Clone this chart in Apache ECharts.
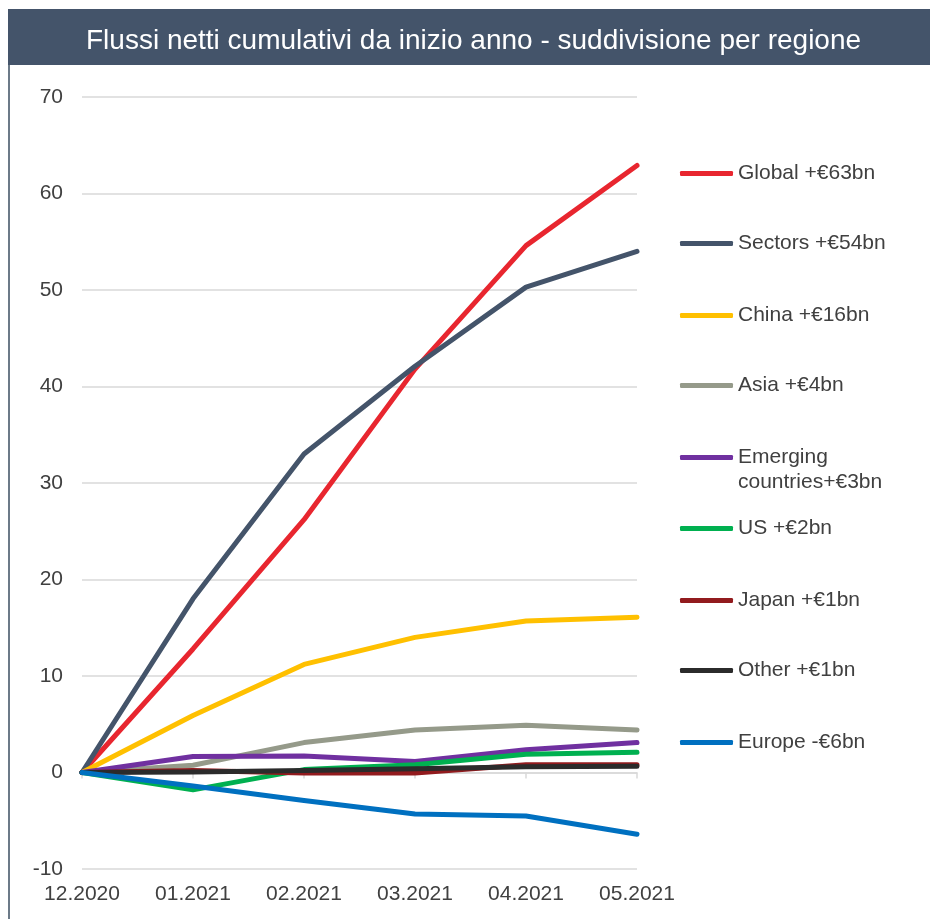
<!DOCTYPE html>
<html>
<head>
<meta charset="utf-8">
<script src="https://cdn.jsdelivr.net/npm/echarts@6/dist/echarts.min.js"></script>
<style>
html,body{margin:0;padding:0;background:#fff;}
#chart{width:930px;height:919px;}
</style>
</head>
<body>
<div id="chart"></div>
<script>
const titleText = 'Flussi netti cumulativi da inizio anno - suddivisione per regione';
const categories = ['12.2020', '01.2021', '02.2021', '03.2021', '04.2021', '05.2021'];
const seriesNames = ['Global +€63bn', 'Sectors +€54bn', 'China +€16bn', 'Asia +€4bn', 'Emerging\ncountries+€3bn', 'US +€2bn', 'Japan +€1bn', 'Other +€1bn', 'Europe -€6bn'];
const globalVals   = [0, 12.8, 26.2, 41.8, 54.6, 62.9];
const sectorsVals  = [0, 18.0, 33.0, 42.1, 50.3, 54.0];
const chinaVals    = [0, 5.9, 11.2, 14.0, 15.7, 16.1];
const asiaVals     = [0, 0.75, 3.1, 4.4, 4.9, 4.4];
const emergingVals = [0, 1.65, 1.7, 1.15, 2.35, 3.1];
const usVals       = [0, -1.8, 0.3, 0.8, 1.9, 2.1];
const japanVals    = [0, 0.2, -0.05, -0.05, 0.8, 0.8];
const otherVals    = [0, 0.05, 0.2, 0.4, 0.6, 0.65];
const europeVals   = [0, -1.4, -2.9, -4.3, -4.5, -6.4];
const yTicks = {min: -10, max: 70, interval: 10};

const allVals = [globalVals, sectorsVals, chinaVals, asiaVals, emergingVals, usVals, japanVals, otherVals, europeVals];
const colors = ['#E8262F', '#44546A', '#FFC000', '#959A8A', '#7030A0', '#00B050', '#921B1E', '#2B2B2B', '#0070C0'];

const FONT = '"Liberation Sans", Arial, sans-serif';
const chart = echarts.init(document.getElementById('chart'), null, {renderer: 'canvas'});

const legendCenters = [173, 243, 315, 385, 457, 528, 600, 670, 742];
const legends = seriesNames.map((n, i) => {
  const multi = n.indexOf('\n') >= 0;
  return {
    data: [n],
    left: 680,
    top: multi ? legendCenters[i] - 37 : legendCenters[i] - 12,
    padding: 0,
    orient: 'vertical',
    icon: 'roundRect',
    itemWidth: 53,
    itemHeight: 5,
    selectedMode: false,
    formatter: name => (name.indexOf('\n') >= 0 ? ' \n' + name : name),
    textStyle: {fontFamily: FONT, fontSize: 21, color: '#404040', lineHeight: 25}
  };
});

chart.setOption({
  animation: false,
  backgroundColor: '#fff',
  graphic: [
    {type: 'rect', shape: {x: 8, y: 9, width: 922, height: 56}, style: {fill: '#44546A'}, z: -1},
    {type: 'rect', shape: {x: 8, y: 65, width: 2, height: 860}, style: {fill: '#6C7A88'}, z: -1}
  ],
  title: {
    text: titleText,
    left: 86,
    top: 27,
    padding: 0,
    textStyle: {fontFamily: FONT, fontSize: 28, fontWeight: 'normal', color: '#ffffff'}
  },
  legend: legends,
  grid: {left: 82, right: 293, top: 97, bottom: 50, containLabel: false},
  xAxis: [
    {
      type: 'category', data: categories, boundaryGap: false, position: 'bottom',
      axisLine: {show: false, onZero: false},
      axisTick: {show: false},
      splitLine: {show: false},
      axisLabel: {fontFamily: FONT, fontSize: 21, color: '#404040', margin: 15}
    },
    {
      type: 'category', data: categories, boundaryGap: false, position: 'bottom',
      axisLine: {show: true, onZero: true, lineStyle: {color: '#D9D9D9', width: 1.5}},
      axisTick: {show: true, length: 6, lineStyle: {color: '#D9D9D9', width: 1.5}},
      axisLabel: {show: false},
      splitLine: {show: false}
    }
  ],
  yAxis: {
    type: 'value', min: yTicks.min, max: yTicks.max, interval: yTicks.interval,
    axisLine: {show: false}, axisTick: {show: false},
    axisLabel: {fontFamily: FONT, fontSize: 21, color: '#404040', margin: 19},
    splitLine: {lineStyle: {color: '#D9D9D9', width: 1.5}}
  },
  series: seriesNames.map((n, i) => ({
    name: n,
    type: 'line',
    xAxisIndex: 0,
    data: allVals[i],
    symbol: 'none',
    color: colors[i],
    lineStyle: {width: 5, color: colors[i], join: 'round', cap: 'round'},
    emphasis: {disabled: true}
  }))
});
</script>
</body>
</html>
